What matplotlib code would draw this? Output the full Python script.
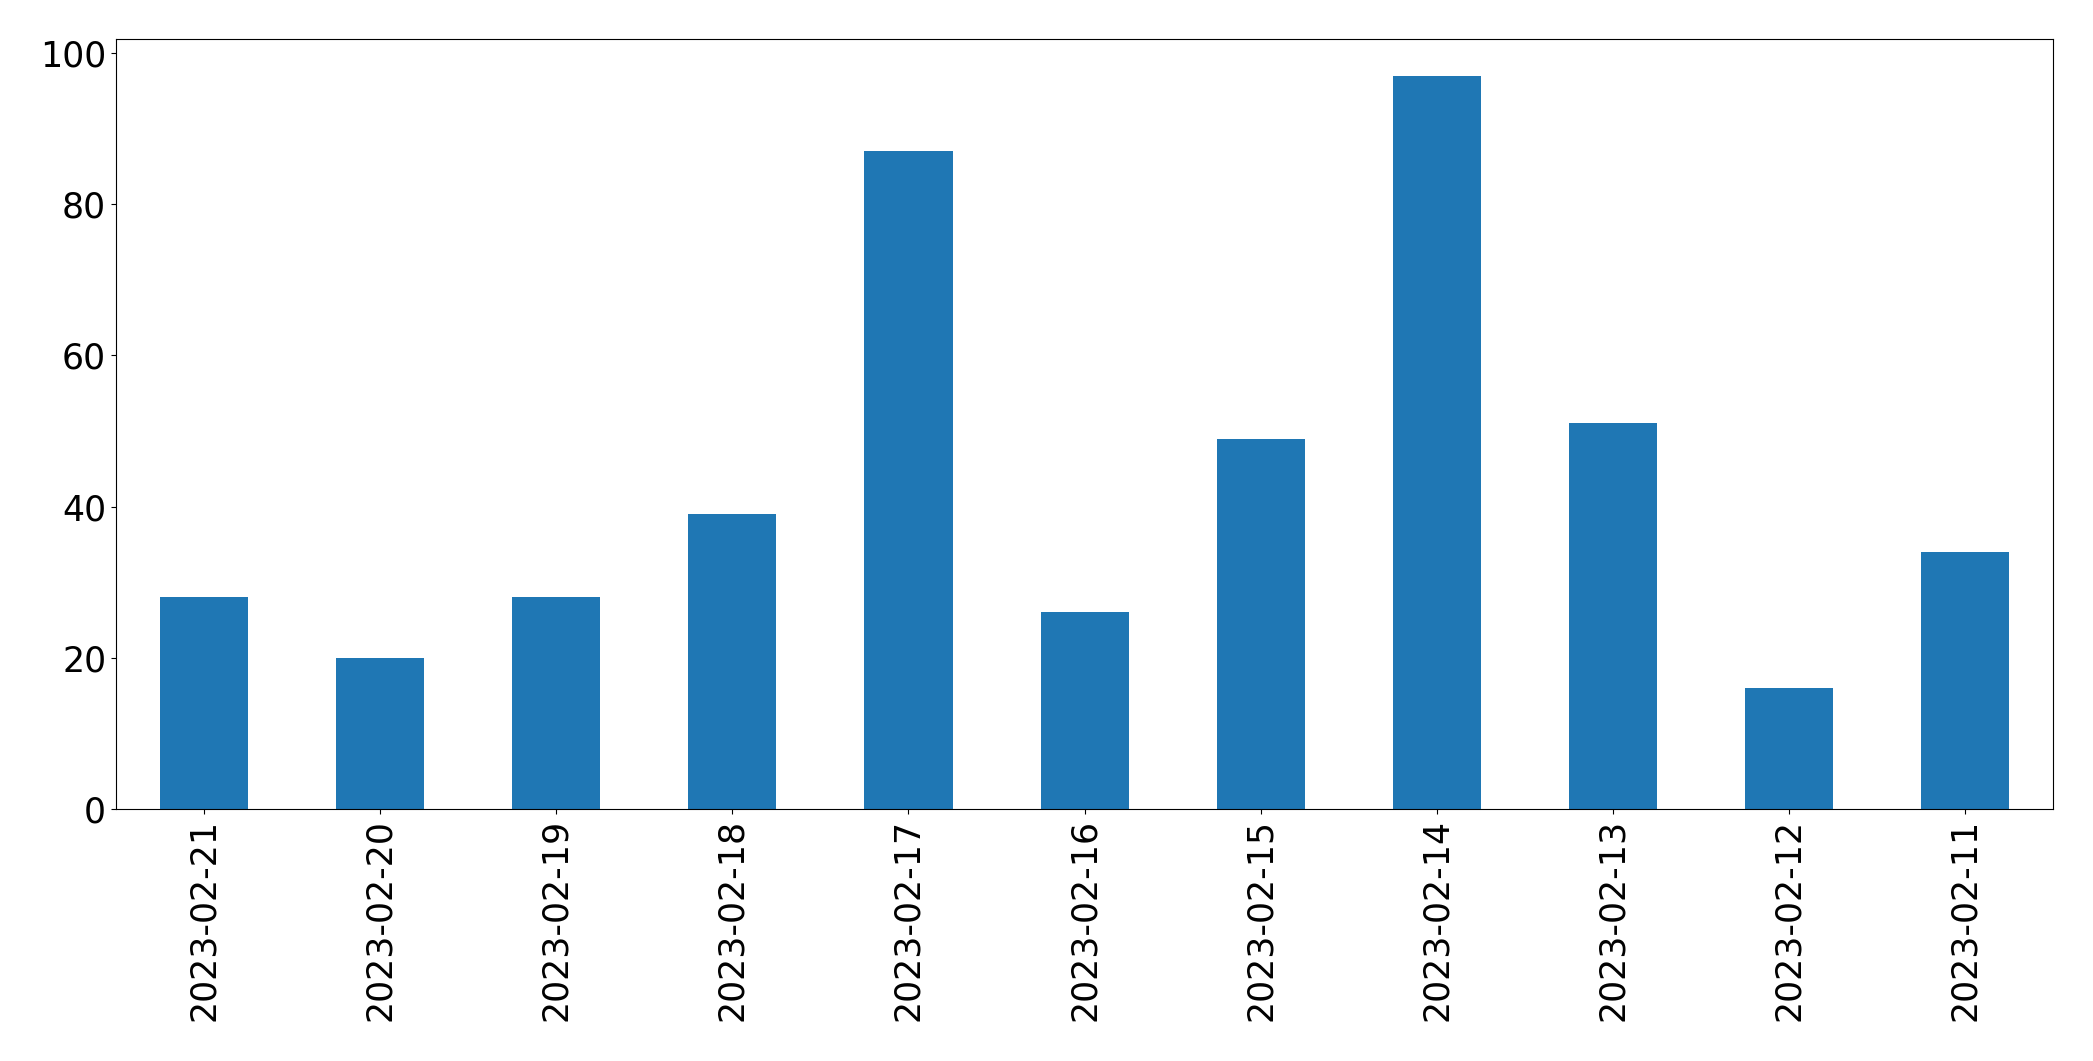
import matplotlib
matplotlib.use("Agg")
import matplotlib.pyplot as plt

dates = ["2023-02-21", "2023-02-20", "2023-02-19", "2023-02-18", "2023-02-17",
         "2023-02-16", "2023-02-15", "2023-02-14", "2023-02-13", "2023-02-12",
         "2023-02-11"]
counts = [28, 20, 28, 39, 87, 26, 49, 97, 51, 16, 34]

fig = plt.figure(figsize=(20.93, 10.61), dpi=100)
ax = fig.add_axes([0.0554, 0.2375, 0.9256, 0.7257])

x = range(len(dates))
ax.bar(x, counts, width=0.5, color="#1f77b4")
ax.set_xlim(-0.5, len(dates) - 0.5)
ax.set_xticks(list(x))
ax.set_xticklabels(dates, rotation=90)
ax.tick_params(labelsize=25)

fig.savefig("out.png", dpi=100)
